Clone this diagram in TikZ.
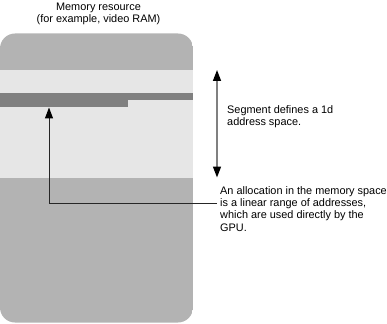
\documentclass[tikz,border=0pt]{standalone}
\usepackage{fontspec}
\setmainfont{Liberation Sans}
\usetikzlibrary{arrows.meta}
\definecolor{memgray}{HTML}{B3B3B3}
\definecolor{bandgray}{HTML}{E6E6E6}
\definecolor{bargray}{HTML}{808080}
\tikzset{
  x=1pt, y=-1pt,
  txt/.style={font=\fontsize{10.9}{12.3}\selectfont, inner sep=0pt},
  lbl/.style={txt, align=left, anchor=north west},
  tip/.style={-{Triangle[length=11pt,width=8pt,color=black]}},
}
\begin{document}
\begin{tikzpicture}
\useasboundingbox (0,0) rectangle (387,323);
% memory block
\begin{scope}
\clip[rounded corners=15pt] (0,33.5) rectangle (193,322.5);
\fill[memgray] (0,33.5) rectangle (193,322.5);
\fill[bandgray] (0,70) rectangle (193,178);
\fill[bargray] (0,93.5) rectangle (193,100.5);
\fill[bargray] (0,100) rectangle (127.5,107);
\end{scope}
% title
\node[txt, align=center, anchor=north] (title) at (98.5,3) {Memory resource\\(for example, video RAM)};
% segment arrow
\coordinate (segtop) at (217,70);
\coordinate (segmid) at (217,125);
\coordinate (segbot) at (217,177.5);
\draw[bargray, line width=1.5pt, tip] (segmid) -- (segtop);
\draw[bargray, line width=1.5pt, tip] (segmid) -- (segbot);
\node[lbl] (seg) at (227,105.5) {Segment defines a 1d\\address space.};
% allocation
\coordinate (alloc) at (49,107.5);
\coordinate (corner) at (49,203);
\node[lbl] (alloctext) at (220,186) {An allocation in the memory space\\is a linear range of addresses,\\which are used directly by the\\GPU.};
\draw[black!85, line width=1pt] (alloctext.west|-corner) ++(-3,0) coordinate (hend) -- (corner);
\draw[black!85, line width=1pt, tip] (corner) -- (alloc);
\end{tikzpicture}
\end{document}
